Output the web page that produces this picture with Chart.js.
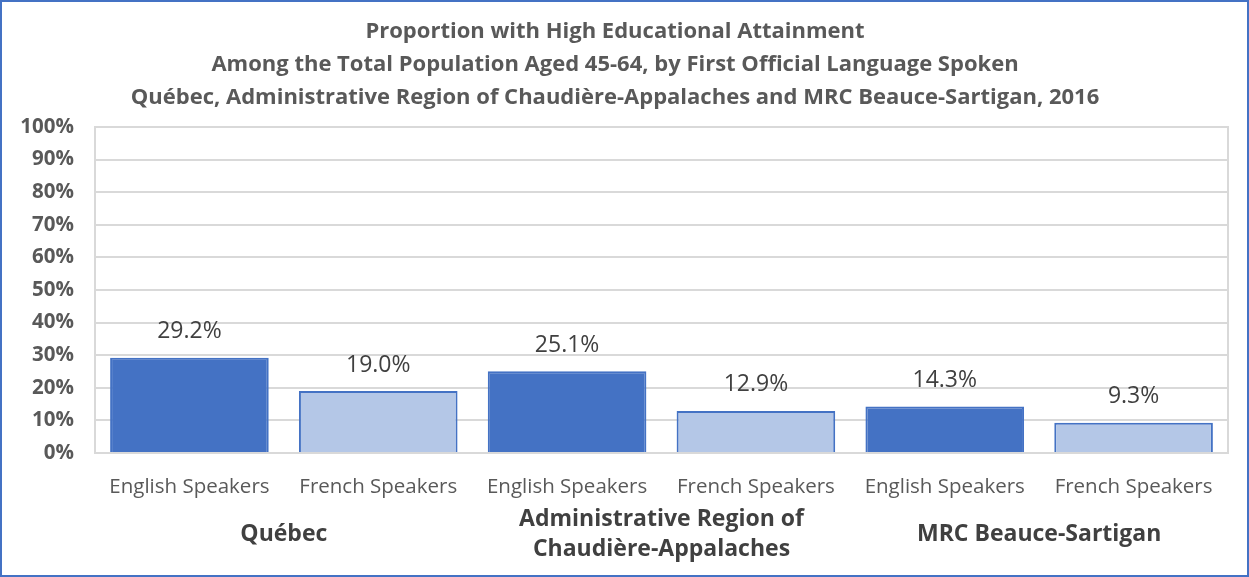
<!DOCTYPE html>
<html>
<head>
<meta charset="utf-8">
<script src="https://cdn.jsdelivr.net/npm/chart.js@4"></script>
<style>
  body { margin: 0; background: #fff; }
  .frame { width: 1249px; height: 577px; box-sizing: border-box; border: 2px solid #4472C4; background: #fff; }
</style>
</head>
<body>
<div class="frame"><canvas id="eduChart" width="1245" height="573"></canvas></div>
<script>
const speakers = ["English Speakers", "French Speakers", "English Speakers", "French Speakers", "English Speakers", "French Speakers"];
const groups = [["Québec"], ["Administrative Region of", "Chaudière-Appalaches"], ["MRC Beauce-Sartigan"]];
const values = [29.2, 19.0, 25.1, 12.9, 14.3, 9.3];
const barColors = ["#4472C4", "#B4C7E7", "#4472C4", "#B4C7E7", "#4472C4", "#B4C7E7"];
const yTicks = [0, 10, 20, 30, 40, 50, 60, 70, 80, 90, 100];

const FONT = "'Open Sans', 'Noto Sans', sans-serif";

// value labels over bars + group labels under the axis + plot frame
const extras = {
    id: 'extras',
    afterDatasetsDraw(chart) {
        let ctx = chart.ctx;
        let meta = chart.getDatasetMeta(0);
        ctx.save();
        ctx.font = "23px " + FONT;
        ctx.fillStyle = "#404040";
        ctx.textAlign = "center";
        ctx.textBaseline = "middle";
        meta.data.forEach(function (bar, i) {
            ctx.fillText(values[i].toFixed(1) + "%", bar.x, bar.y - 26);
        });
        ctx.restore();
    },
    afterDraw(chart) {
        let ctx = chart.ctx;
        let area = chart.chartArea;
        let x = chart.scales.x;
        ctx.save();
        ctx.strokeStyle = "#D9D9D9";
        ctx.lineWidth = 2;
        ctx.strokeRect(area.left, area.top, area.right - area.left, area.bottom - area.top);
        ctx.font = "bold 23px " + FONT;
        ctx.fillStyle = "#404040";
        ctx.textAlign = "center";
        ctx.textBaseline = "middle";
        groups.forEach(function (lines, g) {
            let cx = (x.getPixelForValue(g * 2) + x.getPixelForValue(g * 2 + 1)) / 2;
            let cy = area.bottom + 81;
            let start = cy - (lines.length - 1) * 15;
            lines.forEach(function (line, k) {
                ctx.fillText(line, cx, start + k * 30);
            });
        });
        ctx.restore();
    }
};

document.addEventListener("DOMContentLoaded", function () {
    let ctx = document.getElementById('eduChart').getContext('2d');

    new Chart(ctx, {
        type: 'bar',
        data: {
            labels: speakers,
            datasets: [{
                data: values,
                backgroundColor: barColors,
                borderColor: "#4472C4",
                borderWidth: 2,
                barPercentage: 1,
                categoryPercentage: 0.84
            }]
        },
        options: {
            responsive: false,
            animation: false,
            layout: { padding: { top: 13, right: 19, bottom: 0, left: 0 } },
            plugins: {
                legend: { display: false },
                tooltip: { enabled: false },
                title: {
                    display: true,
                    text: [
                        "Proportion with High Educational Attainment",
                        "Among the Total Population Aged 45-64, by First Official Language Spoken",
                        "Québec, Administrative Region of Chaudière-Appalaches and MRC Beauce-Sartigan, 2016"
                    ],
                    color: "#595959",
                    font: { family: FONT, size: 22, weight: 'bold', lineHeight: 1.5 },
                    padding: { top: 0, bottom: 13 }
                }
            },
            scales: {
                x: {
                    grid: { display: false },
                    border: { display: false },
                    afterFit: function (axis) { axis.height = 122; },
                    ticks: {
                        color: "#595959",
                        font: { family: FONT, size: 20.5 },
                        maxRotation: 0,
                        padding: 14
                    }
                },
                y: {
                    min: 0,
                    max: 100,
                    afterBuildTicks: function (axis) {
                        axis.ticks = yTicks.map(function (v) { return { value: v }; });
                    },
                    afterFit: function (axis) { axis.width = 93; },
                    grid: { color: "#D9D9D9", lineWidth: 2, drawTicks: false },
                    border: { display: false },
                    ticks: {
                        color: "#595959",
                        font: { family: FONT, size: 20.5, weight: 'bold' },
                        padding: 21,
                        callback: function (v) { return v + "%"; }
                    }
                }
            }
        },
        plugins: [extras]
    });
});
</script>
</body>
</html>
